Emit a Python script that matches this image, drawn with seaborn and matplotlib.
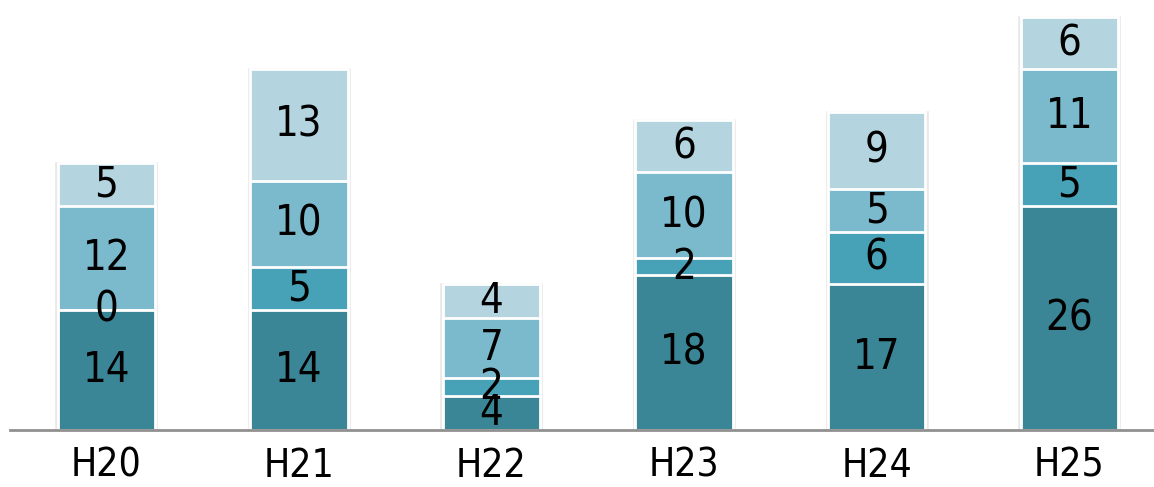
import matplotlib
matplotlib.use("Agg")
import matplotlib.pyplot as plt
import seaborn as sns
import numpy as np
import pandas as pd

# data
years = ['H20', 'H21', 'H22', 'H23', 'H24', 'H25']
s1 = [14, 14, 4, 18, 17, 26]
s2 = [0, 5, 2, 2, 6, 5]
s3 = [12, 10, 7, 10, 5, 11]
s4 = [5, 13, 4, 6, 9, 6]
layers = [s1, s2, s3, s4]
colors = ['#3a8697', '#47a1b7', '#7bbacd', '#b4d4df']

sns.set_style('white')
plt.rcParams['font.family'] = ['DejaVu Sans']
plt.rcParams['font.stretch'] = 'condensed'

fig = plt.figure(figsize=(11.54, 4.87), dpi=100)
ax = fig.add_axes([10 / 1154, 57 / 487, 1144 / 1154, 430 / 487])

cum = np.cumsum(np.array(layers), axis=0)

# soft shadow behind each bar
sns.barplot(x=years, y=cum[-1] + 0.25, color='#e8e8e8', width=0.54,
            saturation=1, ax=ax, zorder=1)

# stacked bars: draw cumulative totals from top layer down
for i in range(len(layers) - 1, -1, -1):
    df = pd.DataFrame({'year': years, 'val': cum[i]})
    sns.barplot(data=df, x='year', y='val', color=colors[i], width=0.505,
                saturation=1, edgecolor='white', linewidth=2, ax=ax, zorder=2)

# value labels in the middle of each segment
for i, vals in enumerate(layers):
    base = cum[i] - np.array(vals)
    for j, v in enumerate(vals):
        ax.text(j, base[j] + v / 2, str(v), ha='center', va='center',
                fontsize=30, fontstretch='condensed', color='black', zorder=5)

ax.set_xlim(-0.5, 5.44)
ax.set_ylim(0, 50)
ax.set_xlabel('')
ax.set_ylabel('')
ax.set_yticks([])
ax.tick_params(axis='x', length=0, labelsize=28, pad=12, labelcolor='black')
for lab in ax.get_xticklabels():
    lab.set_fontstretch('condensed')
for side in ['top', 'right', 'left']:
    ax.spines[side].set_visible(False)
ax.spines['bottom'].set_color('#909090')
ax.spines['bottom'].set_linewidth(2)
ax.spines['bottom'].set_zorder(6)

fig.savefig('out.png', dpi=100)
